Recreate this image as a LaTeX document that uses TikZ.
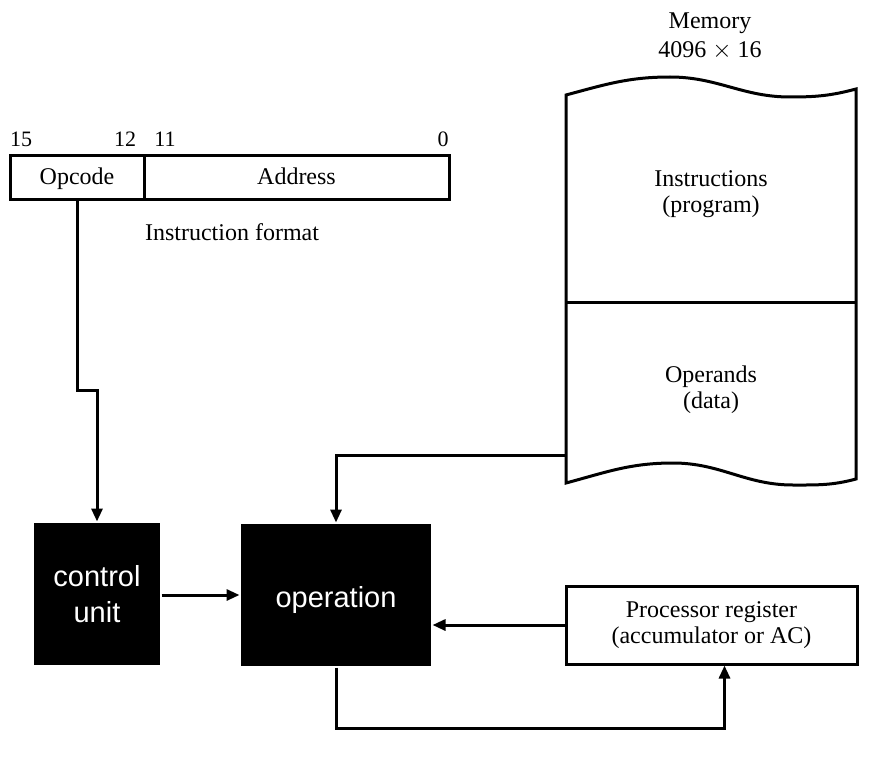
\documentclass[tikz,border=0pt]{standalone}
\usepackage{fontspec}
\setmainfont{Liberation Serif}
\setsansfont{Liberation Sans}
\usetikzlibrary{arrows.meta}

\begin{document}
\begin{tikzpicture}[
  x=1pt, y=-1pt,
  line width=3pt,
  every node/.style={font=\fontsize{24}{26}\selectfont, align=center},
  field/.style={draw, minimum height=44pt, inner sep=0pt,
    text height=16pt, text depth=2pt},
  blackbox/.style={fill=black, text=white, minimum height=142pt,
    font=\sffamily\fontsize{29}{36}\selectfont},
  bitno/.style={font=\fontsize{22}{24}\selectfont},
  link/.style={draw, -{Triangle[length=13pt,width=11pt]}}
  ]
\useasboundingbox (0,0) rectangle (890,757);

% instruction format
\node[field, minimum width=134pt] (opcode) at (77,177) {Opcode};
\node[field, minimum width=305pt] (address) at (296.5,177) {Address};
\node[bitno] (b15) at (21,139) {15};
\node[bitno] (b12) at (125,139) {12};
\node[bitno] (b11) at (165,139) {11};
\node[bitno] (b0) at (443,139) {0};
\node (format) at (232,232) {Instruction format};

% memory
\draw (566,95) to[out=15,in=180] (670,77) to[out=0,in=180] (790,97)
  to[out=0,in=195] (856,89) -- (856,479) to[out=195,in=0] (793,485)
  to[out=180,in=0] (673,463) to[out=180,in=15] (566,483) -- cycle;
\draw (566,302) -- (856,302);
\node[inner sep=0pt] (memtitle) at (710,23) {Memory};
\node[inner sep=0pt] (memsize) at (710,51) {4096 $\times$ 16};
\node (instr) at (711,194) {Instructions\\(program)};
\node (operands) at (711,390) {Operands\\(data)};
\coordinate (memL) at (566,455);

% units
\node[blackbox, minimum width=126pt] (cu) at (97,594) {control\\unit};
\node[blackbox, minimum width=190pt, text height=24pt, text depth=0pt]
  (oper) at (336,595) {operation};
\node[draw, minimum width=291pt, minimum height=78pt] (reg) at (711.5,625)
  {Processor register\\(accumulator or AC)};

% connections
\coordinate (bend) at (77,390);
\coordinate (loop) at (336,728);
\draw[link] (opcode.south) -- (bend) -| (cu.north);
\draw[link] (memL) -| (oper.north);
\draw[link] (cu.east |- oper) -- (oper.west);
\draw[link] (reg.west) -- (reg.west -| oper.east);
\draw[link] (oper.south) -- (loop) -| ([xshift=13pt]reg.south);

\end{tikzpicture}
\end{document}
